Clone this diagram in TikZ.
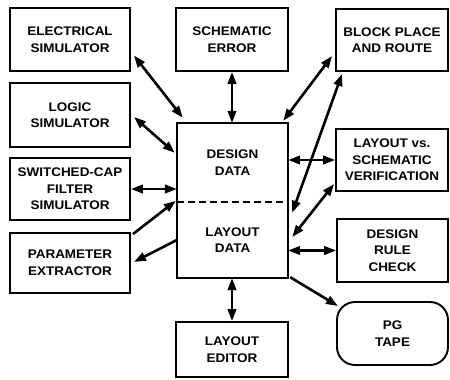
\documentclass[tikz,border=0pt]{standalone}
\usepackage{fontspec}
\setmainfont{Liberation Sans}[FakeStretch=1.08]
\usetikzlibrary{arrows.meta,calc}
\begin{document}
\begin{tikzpicture}[x=1pt,y=-1pt,
  box/.style={draw,line width=1.9pt,inner sep=0pt,align=center,
    font=\fontsize{12.5}{16.5}\selectfont\bfseries},
  lbl/.style={inner sep=0pt,align=center,font=\fontsize{12.5}{16.5}\selectfont\bfseries},
  link/.style={line width=2.6pt,{Triangle[length=12pt,width=8.5pt]}-{Triangle[length=12pt,width=8.5pt]}},
  oneway/.style={line width=2.6pt,-{Triangle[length=12pt,width=8.5pt]}}]
\useasboundingbox (0,0) rectangle (450,380);
% left column
\node[box,minimum width=120pt,minimum height=63pt] (elec) at (70,39.5) {ELECTRICAL\\SIMULATOR};
\node[box,minimum width=120pt,minimum height=64pt] (logic) at (70,115) {LOGIC\\SIMULATOR};
\node[box,minimum width=120pt,minimum height=62pt] (swc) at (70,189) {SWITCHED-CAP\\FILTER\\SIMULATOR};
\node[box,minimum width=120pt,minimum height=60pt] (param) at (70,263) {PARAMETER\\EXTRACTOR};
% middle column
\node[box,minimum width=112pt,minimum height=63pt] (schem) at (232,39.5) {SCHEMATIC\\ERROR};
\node[inner sep=0pt,minimum width=111pt,minimum height=79pt] (ddtop) at (232.5,162.5) {};
\node[inner sep=0pt,minimum width=111pt,minimum height=76pt] (ddbot) at (232.5,240) {};
\node[lbl] (ddtxt) at (ddtop.center) {DESIGN\\DATA};
\node[lbl] (ldtxt) at (ddbot.center) {LAYOUT\\DATA};
\draw[line width=1.9pt] (ddtop.north west) rectangle (ddbot.south east);
\draw[line width=1.9pt,dash pattern=on 7pt off 4pt] (ddtop.south west) -- (ddtop.south east);
\node[box,minimum width=112pt,minimum height=55pt] (editor) at (232,349.5) {LAYOUT\\EDITOR};
% right column
\node[box,minimum width=112pt,minimum height=62pt] (block) at (392,40) {BLOCK PLACE\\AND ROUTE};
\node[box,minimum width=112pt,minimum height=62pt] (lvs) at (392,160) {LAYOUT vs.\\SCHEMATIC\\VERIFICATION};
\node[box,minimum width=111pt,minimum height=63pt] (drc) at (392.5,250.5) {DESIGN\\RULE\\CHECK};
\node[box,rounded corners=18pt,minimum width=111pt,minimum height=63pt] (pg) at (392.5,333.5) {PG\\TAPE};
% connectors
\draw[link] ([shift={(3,16)}]elec.east) -- ([shift={(6,-5)}]ddtop.north west);
\draw[link] ([shift={(3,2)}]logic.east) -- ([shift={(-2,30)}]ddtop.north west);
\draw[link] (swc.east) -- (swc.east -| ddtop.west);
\draw[oneway] ([shift={(2,2)}]param.north east) -- ([shift={(-1,-1)}]ddbot.north west);
\draw[oneway] (ddbot.west) -- ([shift={(3,-1)}]param.east);
\draw[link] (schem.south) -- (schem.south |- ddtop.north);
\draw[link] ([shift={(-5,-2)}]ddtop.north east) -- ([shift={(-3,16)}]block.west);
\draw[link] ([shift={(7,2)}]block.south west) -- ([shift={(4,11)}]ddbot.north east);
\draw[link] (lvs.west -| ddtop.east) -- (lvs.west);
\draw[link] ([shift={(4,-3)}]ddbot.east) -- ([shift={(-1,-8)}]lvs.south west);
\draw[link] (drc.west -| ddbot.east) -- (drc.west);
\draw[oneway] ([shift={(2,-1)}]ddbot.south east) -- ([shift={(2,5)}]pg.north west);
\draw[link] (editor.north |- ddbot.south) -- (editor.north);
\end{tikzpicture}
\end{document}
